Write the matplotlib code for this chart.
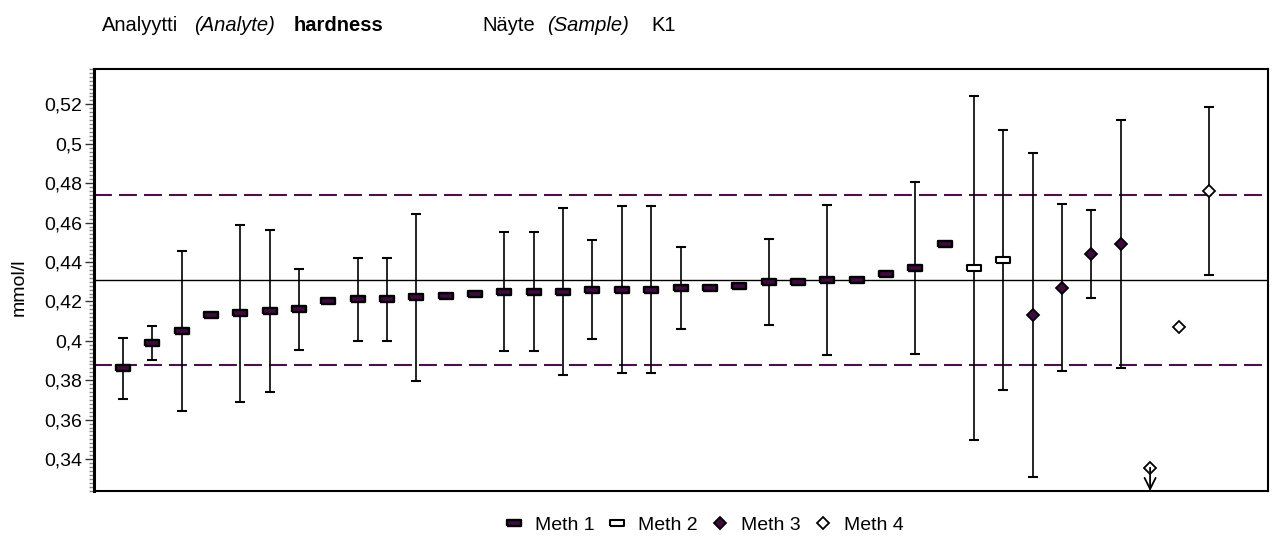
import matplotlib
matplotlib.use("Agg")
import matplotlib.pyplot as plt
from matplotlib.lines import Line2D
from matplotlib.ticker import MultipleLocator, FixedLocator

plt.rcParams["font.family"] = ["Liberation Sans", "DejaVu Sans"]

# ---- results (mmol/l) and expanded uncertainties; None = no uncertainty given
meth1_values = [0.386, 0.399, 0.405, 0.413, 0.414, 0.415, 0.416, 0.420, 0.421, 0.421,
                0.422, 0.423, 0.424, 0.425, 0.425, 0.425, 0.426, 0.426, 0.426, 0.427,
                0.427, 0.428, 0.430, 0.430, 0.431, 0.431, 0.434, 0.437, 0.449]
meth1_unc = [0.0155, 0.0085, 0.0405, None, 0.045, 0.041, 0.0207, None, 0.021, 0.021,
             0.0423, None, None, 0.030, 0.030, 0.0423, 0.0253, 0.0423, 0.0423, 0.0208,
             None, None, 0.0218, None, 0.038, None, None, 0.0438, None]

meth2_values = [0.437, 0.441]
meth2_unc = [0.0871, 0.0662]

meth3_values = [0.413, 0.427, 0.444, 0.449]
meth3_unc = [0.0822, 0.0422, 0.0224, 0.063]

meth4_values = [0.300, 0.407, 0.476]
meth4_unc = [None, None, 0.0428]

legend_labels = ["Meth 1", "Meth 2", "Meth 3", "Meth 4"]

ref_value = 0.431        # assigned value
tolerance_pct = 10       # acceptance limits, +/- %

y_min, y_max = 0.3238, 0.5382
y_ticks = [0.34, 0.36, 0.38, 0.40, 0.42, 0.44, 0.46, 0.48, 0.50, 0.52]
y_tick_labels = ["0,34", "0,36", "0,38", "0,4", "0,42", "0,44", "0,46", "0,48", "0,5", "0,52"]

header_parts = [
    ("Analyytti", "normal", "normal", 101.7),
    ("(Analyte)", "italic", "normal", 193.7),
    ("hardness", "normal", "bold", 293.7),
    ("Näyte", "normal", "normal", 482.0),
    ("(Sample)", "italic", "normal", 547.0),
    ("K1", "normal", "normal", 651.0),
]

# ---- styling
W, H = 1273, 539
purple = "#3f0a40"
limit_color = "#4b0f4b"
rect_marker = [(-1, -0.42), (1, -0.42), (1, 0.42), (-1, 0.42), (-1, -0.42)]
styles = [
    dict(marker=rect_marker, markersize=9.4, markerfacecolor=purple, markeredgewidth=1.7),
    dict(marker=rect_marker, markersize=9.4, markerfacecolor="white", markeredgewidth=1.5),
    dict(marker="D", markersize=6.4, markerfacecolor=purple, markeredgewidth=1.3),
    dict(marker="D", markersize=6.4, markerfacecolor="white", markeredgewidth=1.3),
]

fig = plt.figure(figsize=(W / 100, H / 100), dpi=100)
ax = fig.add_axes([93.5 / W, 1 - 491 / H, (1267.5 - 93.5) / W, (491 - 68.5) / H])

groups = [(meth1_values, meth1_unc), (meth2_values, meth2_unc),
          (meth3_values, meth3_unc), (meth4_values, meth4_unc)]

# reference line and tolerance limits
low_lim = ref_value * (1 - tolerance_pct / 100)
high_lim = ref_value * (1 + tolerance_pct / 100)
ax.axhline(ref_value, color="black", lw=1.0, zorder=1)
for lim in (low_lim, high_lim):
    ax.axhline(lim, color=limit_color, lw=1.5, dashes=(8.6, 3.4), zorder=1)

pos = 1
for (vals, uncs), st in zip(groups, styles):
    for v, u in zip(vals, uncs):
        if v < y_min:
            # result below the scale: marker at the bottom with a downward arrow
            y_draw = y_min + 0.055 * (y_max - y_min)
            ax.plot([pos], [y_draw], linestyle="none", markeredgecolor="black",
                    zorder=4, clip_on=False, **st)
            ax.annotate("", xy=(pos, y_min), xytext=(pos, y_draw),
                        arrowprops=dict(arrowstyle="->", color="black", lw=1.3,
                                        mutation_scale=20, shrinkA=0, shrinkB=0),
                        zorder=5)
        else:
            if u is not None:
                _, caps, _ = ax.errorbar([pos], [v], yerr=[u], fmt="none",
                                         ecolor="black", elinewidth=1.2,
                                         capsize=3.6, capthick=1.5, zorder=2)
                for c in caps:
                    c.set_color(limit_color)
            ax.plot([pos], [v], linestyle="none", markeredgecolor="black",
                    zorder=4, **st)
        pos += 1

ax.set_xlim(0, pos + 1)
ax.set_ylim(y_min, y_max)
ax.set_xticks([])
ax.yaxis.set_major_locator(FixedLocator(y_ticks))
ax.set_yticklabels(y_tick_labels)
ax.yaxis.set_minor_locator(MultipleLocator(0.002))
ax.tick_params(axis="y", which="major", direction="out", length=6.5, width=1.0,
               color="#333333", labelsize=14, pad=1.5)
ax.tick_params(axis="y", which="minor", direction="out", length=3.5, width=1.0,
               color="#888888")
for name, sp in ax.spines.items():
    sp.set_linewidth(1.5)
    sp.set_color("black")
ax.spines["left"].set_linewidth(2.2)

fig.text(19 / W, 1 - 287 / H, "mmol/l", rotation=90, ha="center", va="center",
         fontsize=14)

# header line
for text, style, weight, xpx in header_parts:
    fig.text(xpx / W, 1 - 30.7 / H, text, fontsize=14.5, style=style,
             fontweight=weight, ha="left", va="baseline")

handles = [Line2D([], [], linestyle="none", markeredgecolor="black", **st)
           for st in styles]
fig.legend(handles, legend_labels, loc="center",
           bbox_to_anchor=(704 / W, 1 - 525 / H), ncol=4, frameon=False,
           fontsize=14, handlelength=1.0, handletextpad=0.57,
           columnspacing=0.67, borderpad=0, borderaxespad=0)

fig.savefig("out.png", dpi=100)
